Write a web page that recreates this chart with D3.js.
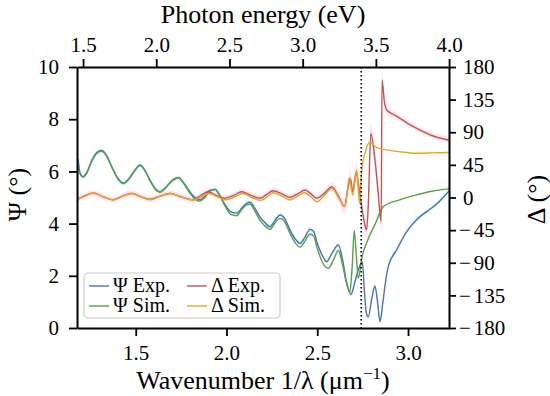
<!DOCTYPE html>
<html>
<head>
<meta charset="utf-8">
<script src="https://cdn.jsdelivr.net/npm/d3@7"></script>
<style>
  body { margin: 0; background: #fff; }
  svg text { font-family: "Liberation Serif", "DejaVu Serif", serif; fill: #000; }
</style>
</head>
<body>
<div id="chart"></div>
<script>
// wavenumber (1/um) vs Psi (deg), measured
const psiExp = [[1.176,6.55],[1.182,6.45],[1.190,6.05],[1.200,5.85],[1.211,5.80],[1.230,5.95],[1.260,6.45],[1.290,6.75],[1.313,6.80],[1.340,6.60],[1.370,6.15],[1.400,5.75],[1.432,5.55],[1.460,5.70],[1.495,6.05],[1.524,6.25],[1.550,6.05],[1.580,5.65],[1.610,5.32],[1.634,5.22],[1.660,5.35],[1.700,5.65],[1.735,5.77],[1.760,5.60],[1.800,5.20],[1.830,4.98],[1.854,4.92],[1.880,5.05],[1.910,5.28],[1.937,5.30],[1.960,5.10],[1.990,4.75],[2.025,4.45],[2.056,4.40],[2.085,4.60],[2.111,4.78],[2.130,4.82],[2.155,4.60],[2.185,4.25],[2.210,4.05],[2.240,3.88],[2.265,4.10],[2.295,4.33],[2.320,4.20],[2.350,3.75],[2.380,3.40],[2.405,3.24],[2.430,3.45],[2.460,3.78],[2.480,3.70],[2.500,3.25],[2.530,2.75],[2.552,2.54],[2.580,2.85],[2.616,3.18],[2.640,2.60],[2.660,1.80],[2.686,1.29],[2.705,1.70],[2.725,2.20],[2.748,2.54],[2.760,1.40],[2.770,0.60],[2.781,0.43],[2.800,1.10],[2.818,1.61],[2.832,1.00],[2.846,0.24],[2.860,0.90],[2.873,1.61],[2.891,2.35],[2.937,2.99],[2.993,3.69],[3.048,4.16],[3.103,4.46],[3.158,4.75],[3.200,5.05],[3.226,5.25]];

// simulated Psi
const psiSim = [[1.176,6.35],[1.190,5.95],[1.211,5.78],[1.230,5.93],[1.260,6.42],[1.290,6.72],[1.313,6.77],[1.340,6.58],[1.370,6.13],[1.400,5.73],[1.432,5.53],[1.460,5.68],[1.495,6.02],[1.524,6.22],[1.550,6.03],[1.580,5.63],[1.610,5.30],[1.634,5.20],[1.660,5.33],[1.700,5.63],[1.735,5.75],[1.760,5.58],[1.800,5.15],[1.830,4.92],[1.854,4.86],[1.880,5.00],[1.910,5.25],[1.937,5.32],[1.960,5.12],[1.990,4.70],[2.025,4.35],[2.056,4.30],[2.085,4.55],[2.111,4.72],[2.130,4.74],[2.155,4.50],[2.185,4.12],[2.210,3.92],[2.240,3.78],[2.265,4.00],[2.295,4.20],[2.320,4.08],[2.350,3.62],[2.380,3.25],[2.405,3.10],[2.430,3.30],[2.460,3.60],[2.480,3.52],[2.500,3.05],[2.530,2.50],[2.561,2.29],[2.590,2.62],[2.616,2.97],[2.640,2.40],[2.660,1.75],[2.680,1.39],[2.692,2.30],[2.704,3.73],[2.715,2.80],[2.726,1.90],[2.745,2.67],[2.780,3.40],[2.820,4.00],[2.864,4.65],[2.950,4.90],[3.048,5.10],[3.130,5.24],[3.226,5.33]];

// measured Delta (deg) with its uncertainty: [wavenumber, delta, err]
const deltaExp = [[1.176,-3,4],[1.221,2.5,4],[1.266,6,4],[1.320,1,4],[1.376,-3,4],[1.427,2,4],[1.478,5.5,4],[1.530,1,4],[1.579,-2.5,4],[1.634,2,4],[1.689,5.5,4],[1.750,1,4],[1.817,-3,4],[1.860,3,4],[1.898,8,4],[1.945,3,4],[1.990,-1,4],[2.040,3,4],[2.084,8,4],[2.135,3,4],[2.185,-1,4],[2.220,4,4],[2.258,9.4,4],[2.305,5,4],[2.350,0.3,4],[2.392,5,4],[2.433,10.3,4],[2.465,5,4],[2.497,-1,4],[2.540,6,5],[2.580,14.9,6],[2.617,2,8],[2.650,-12.6,10],[2.668,12,14],[2.683,26,14],[2.695,8,14],[2.706,22,14],[2.715,35.6,14],[2.727,18,14],[2.740,-5,14],[2.760,-35,14],[2.772,-44.8,14],[2.782,-5,14],[2.795,88.5,14],[2.818,51.7,14],[2.836,5.8,14],[2.852,-33.4,14],[2.857,162,12],[2.870,132,8],[2.883,120.7,6],[2.905,116.5,5],[2.925,114,4],[2.956,109,4],[3.000,102,4],[3.048,95.4,4],[3.139,84.8,4],[3.226,79,4]];

// simulated Delta
const deltaSim = [[1.176,-3.5],[1.221,2],[1.266,6.5],[1.320,1],[1.376,-3.5],[1.427,1.5],[1.478,5.8],[1.530,1],[1.579,-3],[1.634,1.5],[1.689,5.8],[1.750,0.5],[1.817,-3.5],[1.860,1],[1.905,5.5],[1.950,1],[1.995,-3],[2.045,1],[2.090,5.5],[2.140,0],[2.190,-4],[2.225,1],[2.258,6.6],[2.305,2],[2.350,-3.4],[2.392,2],[2.428,6.6],[2.465,1],[2.497,-5.8],[2.540,3],[2.580,12.7],[2.617,0],[2.653,-12.6],[2.677,27.8],[2.695,3.4],[2.717,37.9],[2.733,-8],[2.745,38],[2.763,61],[2.791,77],[2.810,72],[2.827,69],[2.900,65],[2.956,63],[3.048,61],[3.140,61.5],[3.226,62]];

const psiExpErr = 0.08;
const bandGapEV = 3.4;
const hc = 1.23984; // eV*um

const energyTicks = [1.5, 2.0, 2.5, 3.0, 3.5, 4.0];
const wnTicks = [1.5, 2.0, 2.5, 3.0];
const psiTicks = [0, 2, 4, 6, 8, 10];
const deltaTicks = [-180, -135, -90, -45, 0, 45, 90, 135, 180];

const colors = { psiExp: '#4c72b0', psiSim: '#5a9e4a', deltaExp: '#c0574f', deltaSim: '#e3a62f' };

const W = 550, H = 396;
const m = { left: 77, right: 449, top: 67, bottom: 328 };

const svg = d3.select('#chart').append('svg').attr('width', W).attr('height', H);

const x = d3.scaleLinear().domain([1 / 0.85, 1 / 0.31]).range([m.left, m.right]);
const xE = d3.scaleLinear().domain(x.domain().map(d => d * hc)).range([m.left, m.right]);
const yPsi = d3.scaleLinear().domain([0, 10]).range([m.bottom, m.top]);
const yDel = d3.scaleLinear().domain([-180, 180]).range([m.bottom, m.top]);

const plot = svg.append('g');
svg.append('defs').append('clipPath').attr('id', 'clip')
  .append('rect').attr('x', m.left).attr('y', m.top).attr('width', m.right - m.left).attr('height', m.bottom - m.top);
plot.attr('clip-path', 'url(#clip)');

// uncertainty bands
plot.append('path').datum(psiExp)
  .attr('fill', '#bff3f0').attr('opacity', 0.6)
  .attr('d', d3.area().x(d => x(d[0])).y0(d => yPsi(d[1] - psiExpErr)).y1(d => yPsi(d[1] + psiExpErr)).curve(d3.curveMonotoneX));
plot.append('path').datum(deltaExp)
  .attr('fill', '#ffd6ec').attr('opacity', 0.6)
  .attr('d', d3.area().x(d => x(d[0])).y0(d => yDel(d[1] - d[2])).y1(d => yDel(d[1] + d[2])).curve(d3.curveMonotoneX));

const linePsi = d3.line().x(d => x(d[0])).y(d => yPsi(d[1])).curve(d3.curveMonotoneX);
const lineDel = d3.line().x(d => x(d[0])).y(d => yDel(d[1])).curve(d3.curveMonotoneX);

plot.append('path').datum(psiExp).attr('fill', 'none').attr('stroke', colors.psiExp).attr('stroke-width', 1.4).attr('d', linePsi);
plot.append('path').datum(psiSim).attr('fill', 'none').attr('stroke', colors.psiSim).attr('stroke-width', 1.4).attr('d', linePsi);
plot.append('path').datum(deltaExp).attr('fill', 'none').attr('stroke', colors.deltaExp).attr('stroke-width', 1.4).attr('d', lineDel);
plot.append('path').datum(deltaSim).attr('fill', 'none').attr('stroke', colors.deltaSim).attr('stroke-width', 1.4).attr('d', lineDel);

// band gap marker
plot.append('line')
  .attr('x1', xE(bandGapEV)).attr('x2', xE(bandGapEV)).attr('y1', m.top).attr('y2', m.bottom)
  .attr('stroke', '#000').attr('stroke-width', 1.6).attr('stroke-dasharray', '1.6,2.4');

// axes
const fmt1 = d3.format('.1f');
function styleAxis(g) {
  g.selectAll('.domain').attr('stroke', '#000').attr('stroke-width', 2);
  g.selectAll('.tick line').attr('stroke', '#000').attr('stroke-width', 1.8);
  g.selectAll('.tick text').attr('font-size', 21).attr('font-family', '"Liberation Serif", serif');
}
svg.append('g').attr('transform', `translate(0,${m.bottom})`)
  .call(d3.axisBottom(x).tickValues(wnTicks).tickFormat(fmt1).tickSize(8).tickSizeOuter(0).tickPadding(9))
  .call(styleAxis);
svg.append('g').attr('transform', `translate(0,${m.top})`)
  .call(d3.axisTop(xE).tickValues(energyTicks).tickFormat(fmt1).tickSize(8).tickSizeOuter(0).tickPadding(7))
  .call(styleAxis);
svg.append('g').attr('transform', `translate(${m.left},0)`)
  .call(d3.axisLeft(yPsi).tickValues(psiTicks).tickFormat(d3.format('d')).tickSize(8).tickSizeOuter(0).tickPadding(10))
  .call(styleAxis);
const rightAxis = svg.append('g').attr('transform', `translate(${m.right},0)`)
  .call(d3.axisRight(yDel).tickValues(deltaTicks).tickFormat(d3.format('d'))
    .tickSize(7).tickSizeOuter(0).tickPadding(7))
  .call(styleAxis);
// negative labels: start a little further left with a wider minus, as in the source figure
rightAxis.selectAll('.tick text').filter(d => d < 0)
  .attr('x', 10)
  .text(null)
  .call(t => {
    t.append('tspan').text('\u2212');
    t.append('tspan').attr('dx', 3).text(d => Math.abs(d));
  });

// titles
const midX = (m.left + m.right) / 2, midY = (m.top + m.bottom) / 2;
const xt = svg.append('text').attr('x', midX).attr('y', 389).attr('text-anchor', 'middle').attr('font-size', 26);
xt.append('tspan').text('Wavenumber 1/λ (μm');
xt.append('tspan').attr('font-size', 17).attr('dy', -10).text('−1');
xt.append('tspan').attr('dy', 10).text(')');
svg.append('text').attr('x', midX).attr('y', 23).attr('text-anchor', 'middle').attr('font-size', 26).text('Photon energy (eV)');
svg.append('text').attr('transform', `translate(26,${midY - 3}) rotate(-90)`).attr('text-anchor', 'middle').attr('font-size', 26).text('Ψ (°)');
svg.append('text').attr('transform', `translate(545,${midY + 2}) rotate(-90)`).attr('text-anchor', 'middle').attr('font-size', 26).text('Δ (°)');

// legend
const legendItems = [
  { label: 'Ψ Exp.', color: colors.psiExp, col: 0, row: 0 },
  { label: 'Ψ Sim.', color: colors.psiSim, col: 0, row: 1 },
  { label: 'Δ Exp.', color: colors.deltaExp, col: 1, row: 0 },
  { label: 'Δ Sim.', color: colors.deltaSim, col: 1, row: 1 }
];
const lg = svg.append('g');
lg.append('rect').attr('x', 84).attr('y', 273).attr('width', 196).attr('height', 45).attr('rx', 4)
  .attr('fill', '#fff').attr('fill-opacity', 0.8).attr('stroke', '#ccc').attr('stroke-width', 1.2);
legendItems.forEach(it => {
  const lx = 89 + it.col * 98, ly = 286 + it.row * 20;
  lg.append('line').attr('x1', lx).attr('x2', lx + 20).attr('y1', ly).attr('y2', ly)
    .attr('stroke', it.color).attr('stroke-width', 1.4);
  lg.append('text').attr('x', lx + 24).attr('y', ly + 6).attr('font-size', 20).text(it.label);
});
</script>
</body>
</html>
